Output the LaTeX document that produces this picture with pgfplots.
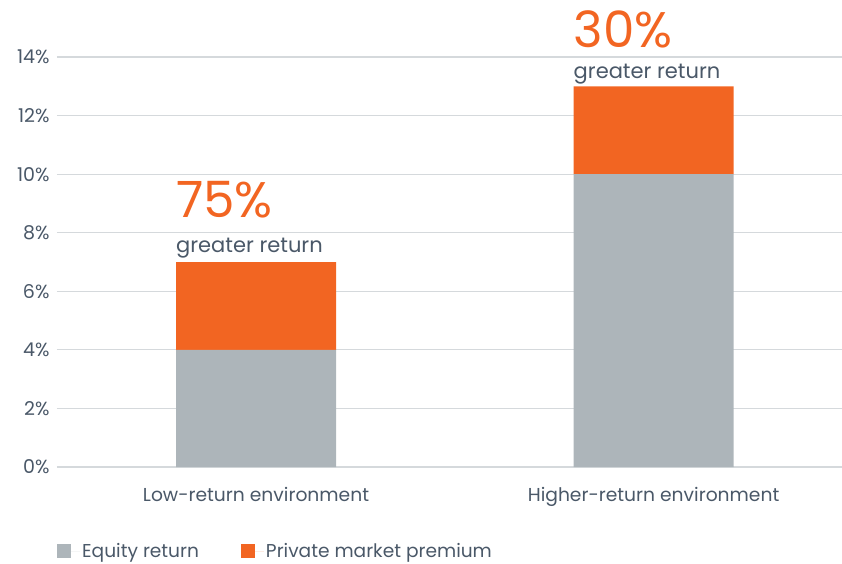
\documentclass[border=0pt]{standalone}
\usepackage{fontspec}
\setmainfont{Poppins}
\usepackage{pgfplots}
\pgfplotsset{compat=1.18}
\definecolor{eqgray}{RGB}{173,181,186}
\definecolor{pmorange}{RGB}{242,101,34}
\definecolor{txt}{RGB}{74,88,104}
\definecolor{gridc}{RGB}{213,217,220}
\begin{document}
\begin{tikzpicture}[font=\color{txt}]
\path[use as bounding box] (-57pt,-96pt) rectangle (785pt,467pt);
\begin{axis}[
  scale only axis,
  width=785pt, height=410pt,
  ybar stacked,
  bar width=160pt,
  xmin=-0.5006, xmax=1.474,
  ymin=0, ymax=14,
  ytick={0,2,...,14},
  yticklabel={\pgfmathprintnumber{\tick}\%},
  xtick={0,1},
  xticklabels={Low-return environment, Higher-return environment},
  axis line style={draw=none},
  major tick length=0pt,
  ymajorgrids,
  grid style={gridc, line width=1.2pt},
  /pgf/number format/assume math mode=true,
  yticklabel style={font=\fontsize{19}{22}\selectfont\color{txt}, xshift=-4pt},
  xticklabel style={font=\fontsize{18.7}{22}\selectfont\color{txt}, yshift=-17pt},
  clip=false,
  legend style={at={(0,-0.205)}, anchor=west, draw=none, fill=none, inner sep=0pt,
    font=\fontsize{18.6}{22}\selectfont\color{txt}, legend columns=2,
    /tikz/every even column/.append style={column sep=40pt}},
  legend image code/.code={\fill[#1] (0pt,-7pt) rectangle (14pt,7pt); \path (0pt,0pt) -- (23pt,0pt);},
  legend cell align=left,
]
\addplot[fill=eqgray, draw=none] coordinates {(0,4) (1,10)};
\addplot[fill=pmorange, draw=none] coordinates {(0,3) (1,3)};
\legend{Equity return, Private market premium}
\node[anchor=base west, inner sep=0pt, text height=11pt, font=\fontsize{21}{24}\selectfont\color{txt}] at ([yshift=10pt]axis cs:-0.2013,7) {greater return};
\node[anchor=base west, inner sep=0pt, text depth=0pt, font=\fontsize{50}{55}\selectfont\color{pmorange}] at ([yshift=45pt]axis cs:-0.2013,7) {75\%};
\node[anchor=base west, inner sep=0pt, text height=11pt, font=\fontsize{21}{24}\selectfont\color{txt}] at ([yshift=8pt]axis cs:0.7987,13) {greater return};
\node[anchor=base west, inner sep=0pt, text depth=0pt, font=\fontsize{50}{55}\selectfont\color{pmorange}] at ([yshift=39pt]axis cs:0.7987,13) {30\%};
\end{axis}
\end{tikzpicture}
\end{document}
